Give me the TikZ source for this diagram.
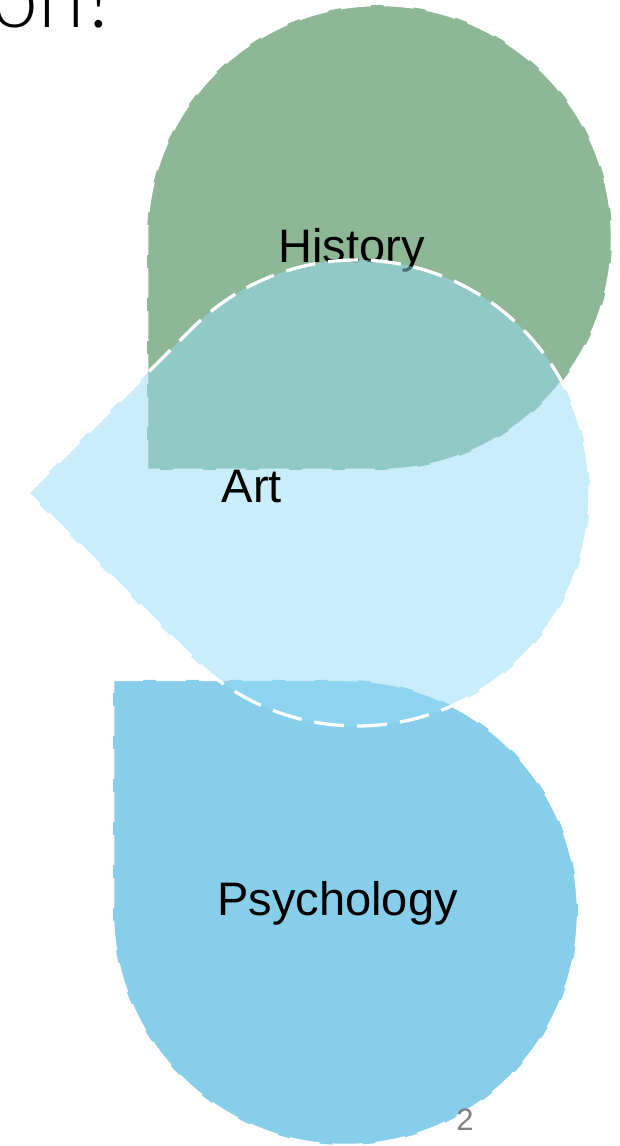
\documentclass[tikz,border=0pt]{standalone}
\usepackage{fontspec}
\setmainfont{Liberation Sans}
\newfontfamily\lightfont{Lato Light}
\definecolor{histgreen}{RGB}{142,183,149}
\definecolor{psyblue}{RGB}{135,206,235}
\definecolor{artblue}{RGB}{147,219,247}
\definecolor{numgray}{RGB}{128,128,128}
\begin{document}
\begin{tikzpicture}[x=1pt,y=1pt,
  petal/.style={draw=white, line width=3.3pt, dash pattern=on 30pt off 13pt},
  solidpetal/.style={petal, line width=2.5pt},
  lbl/.style={anchor=base, font=\fontsize{47}{56}\selectfont, text=black, inner sep=0pt}]
\useasboundingbox (0,0) rectangle (619,1146);
% History petal (corner bottom-left)
\path[solidpetal, fill=histgreen] (147,676) -- (147,908.5)
  arc[start angle=180, end angle=-90, radius=232.5] -- cycle;
\node[lbl] (history) at (351.5,883) {History};
% Psychology petal (corner top-left)
\path[solidpetal, fill=psyblue] (113,466) -- (345.5,466)
  arc[start angle=90, end angle=-180, radius=232.5] -- cycle;
\node[lbl] (psychology) at (337.5,230) {Psychology};
% Art petal (corner left), translucent
\path[petal, fill=artblue, fill opacity=0.5] (27.5,653) -- (192.25,817.75)
  arc[start angle=135, end angle=-135, radius=233] -- cycle;
\node[lbl] (art) at (252,643) {Art};
% title fragment and page number
\node[anchor=base east, inner sep=0pt, font=\lightfont\fontsize{84}{90}\selectfont] (title) at (119,1118) {on?};
\node[anchor=base, inner sep=0pt, font=\fontsize{31}{36}\selectfont, text=numgray] (pagenum) at (465,15) {2};
\end{tikzpicture}
\end{document}
